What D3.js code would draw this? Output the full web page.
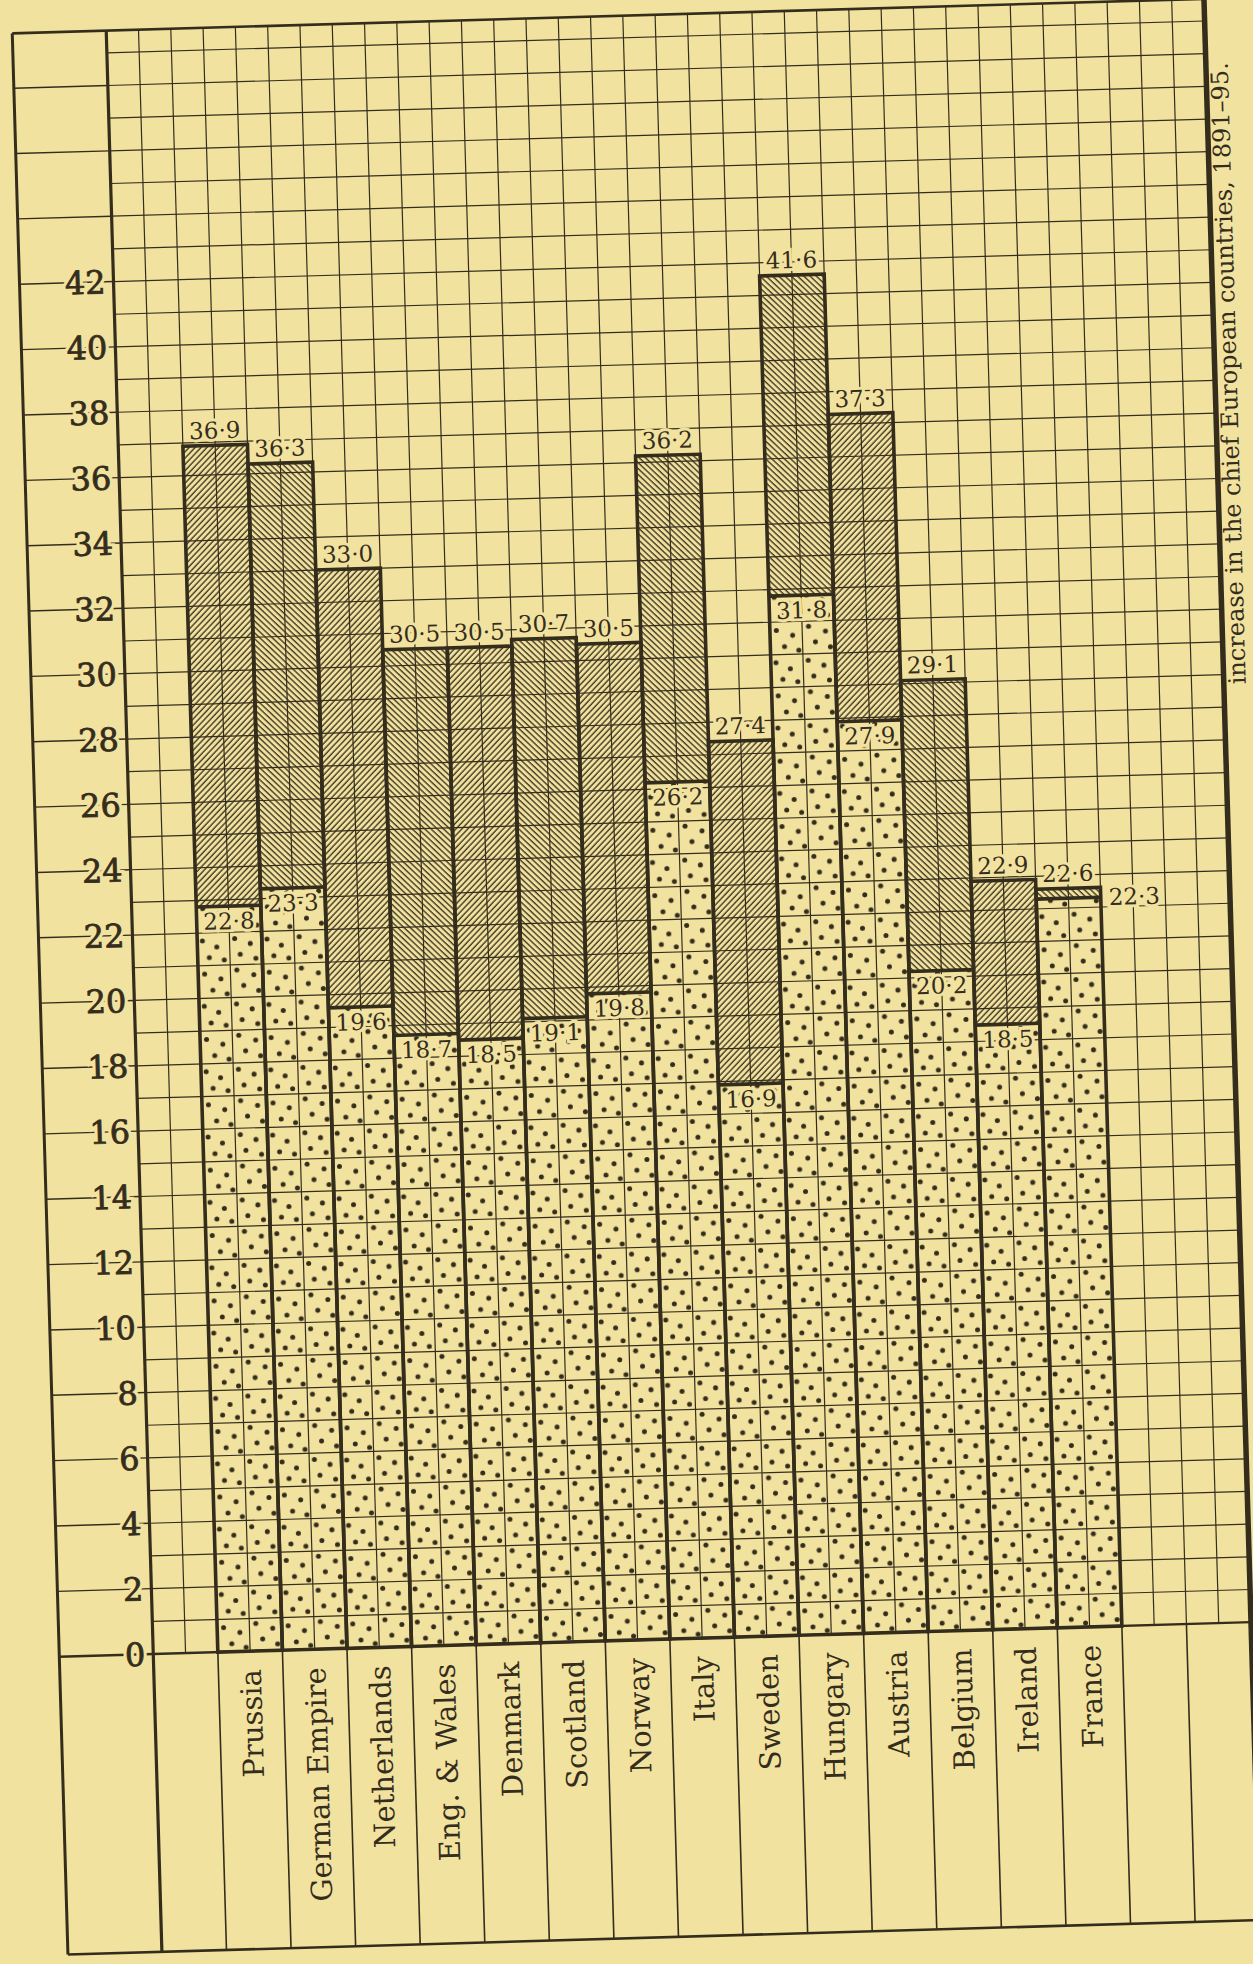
<!DOCTYPE html>
<html>
<head>
<meta charset="utf-8">
<script src="https://cdn.jsdelivr.net/npm/d3@7"></script>
<style>
  html, body { margin: 0; padding: 0; background: #f2e2a0; }
  svg { display: block; }
</style>
</head>
<body>
<div id="chart"></div>
<script>
// birth-rate / death-rate per 1000, 1891-95
const countries = ['Prussia', 'German Empire', 'Netherlands', 'Eng. & Wales', 'Denmark', 'Scotland',
  'Norway', 'Italy', 'Sweden', 'Hungary', 'Austria', 'Belgium', 'Ireland', 'France'];
const birthRates = [36.9, 36.3, 33.0, 30.5, 30.5, 30.7, 30.5, 36.2, 27.4, 41.6, 37.3, 29.1, 22.9, 22.6];
const deathRates = [22.8, 23.3, 19.6, 18.7, 18.5, 19.1, 19.8, 26.2, 16.9, 31.8, 27.9, 20.2, 18.5, 22.3];
const yTicks = d3.range(0, 43, 2);
const caption = 'increase in the chief European countries, 1891–95.';

const W = 1253, H = 1964;
const paper = '#f2e2a0', ink = '#352d1c';
const leftX = 40, axisX = 134, cell = 32.3, topY = 16, bottomY = 1938;
const rightX = axisX + 34 * cell;
const serif = "'DejaVu Serif', serif";

const fmt = v => d3.format('.1f')(v).replace('.', '·');

let y = d3.scaleLinear()
  .domain([0, 42])
  .range([1640, 267]);

let x = d3.scaleBand()
  .domain(countries)
  .range([axisX + 2 * cell, axisX + 30 * cell]);

let svg = d3.select('#chart')
  .append('svg')
  .attr('width', W)
  .attr('height', H);

svg.append('rect').attr('width', W).attr('height', H).attr('fill', paper);

// patterns
let defs = svg.append('defs');
[['hatch-a', 45], ['hatch-b', -45]].forEach(function(p) {
  let pat = defs.append('pattern')
    .attr('id', p[0])
    .attr('patternUnits', 'userSpaceOnUse')
    .attr('width', 4.3).attr('height', 10)
    .attr('patternTransform', 'rotate(' + p[1] + ')');
  pat.append('line')
    .attr('x1', 1).attr('x2', 1).attr('y1', 0).attr('y2', 10)
    .attr('stroke', ink).attr('stroke-width', 1.3);
});

let dotTile = [[0.08, 0.12], [0.30, 0.22], [0.18, 0.38], [0.41, 0.42], [0.58, 0.10], [0.82, 0.18],
  [0.66, 0.34], [0.90, 0.41], [0.10, 0.63], [0.35, 0.71], [0.22, 0.88], [0.44, 0.94],
  [0.60, 0.58], [0.86, 0.66], [0.70, 0.82], [0.93, 0.90]];
let tileW = 2 * cell, tileH = y(0) - y(2);
let dots = defs.append('pattern')
  .attr('id', 'dots')
  .attr('patternUnits', 'userSpaceOnUse')
  .attr('x', axisX).attr('y', y(0))
  .attr('width', tileW).attr('height', tileH);
dots.selectAll('circle')
  .data(dotTile)
  .enter().append('circle')
  .attr('cx', d => d[0] * tileW)
  .attr('cy', d => d[1] * tileH)
  .attr('r', 2.5)
  .attr('fill', ink);

// the page is photographed a little askew
let g = svg.append('g')
  .attr('transform', 'rotate(-1.66, 626, 982)');

// fine grid
let grid = g.append('g').attr('stroke', ink).attr('stroke-width', 1.2);
grid.selectAll('.vgrid')
  .data(d3.range(1, 34))
  .enter().append('line')
  .attr('class', 'vgrid')
  .attr('x1', k => axisX + k * cell).attr('x2', k => axisX + k * cell)
  .attr('y1', topY).attr('y2', y(0));
grid.selectAll('.hgrid')
  .data(d3.range(1, 50))
  .enter().append('line')
  .attr('class', 'hgrid')
  .attr('x1', axisX).attr('x2', rightX)
  .attr('y1', v => y(v)).attr('y2', v => y(v));

// tick lines in the left margin
g.append('g').selectAll('line')
  .data(d3.range(2, 50, 2))
  .enter().append('line')
  .attr('x1', leftX).attr('x2', axisX)
  .attr('y1', v => y(v)).attr('y2', v => y(v))
  .attr('stroke', ink).attr('stroke-width', 1.4);

// bars
let bars = g.append('g').selectAll('g')
  .data(countries)
  .enter().append('g');

bars.append('rect')
  .attr('x', d => x(d))
  .attr('width', x.bandwidth())
  .attr('y', (d, i) => y(deathRates[i]))
  .attr('height', (d, i) => y(0) - y(deathRates[i]))
  .attr('fill', 'url(#dots)');

bars.append('rect')
  .attr('x', d => x(d))
  .attr('width', x.bandwidth())
  .attr('y', (d, i) => y(birthRates[i]))
  .attr('height', (d, i) => y(deathRates[i]) - y(birthRates[i]))
  .attr('fill', (d, i) => i % 2 ? 'url(#hatch-b)' : 'url(#hatch-a)');

bars.append('rect')
  .attr('x', d => x(d))
  .attr('width', x.bandwidth())
  .attr('y', (d, i) => y(birthRates[i]))
  .attr('height', (d, i) => y(0) - y(birthRates[i]))
  .attr('fill', 'none')
  .attr('stroke', ink).attr('stroke-width', 3.6);

bars.append('line')
  .attr('x1', d => x(d)).attr('x2', d => x(d) + x.bandwidth())
  .attr('y1', (d, i) => y(deathRates[i])).attr('y2', (d, i) => y(deathRates[i]))
  .attr('stroke', ink).attr('stroke-width', 3.6);

// frame and table
let frame = g.append('g').attr('stroke', ink).attr('fill', 'none');
frame.append('line').attr('x1', leftX).attr('x2', leftX).attr('y1', topY).attr('y2', bottomY).attr('stroke-width', 3);
frame.append('line').attr('x1', axisX).attr('x2', axisX).attr('y1', topY).attr('y2', bottomY).attr('stroke-width', 3.2);
frame.append('line').attr('x1', rightX).attr('x2', rightX).attr('y1', topY - 4).attr('y2', bottomY).attr('stroke-width', 5.5);
frame.append('line').attr('x1', leftX).attr('x2', rightX).attr('y1', topY).attr('y2', topY).attr('stroke-width', 2.6);
frame.append('line').attr('x1', leftX).attr('x2', rightX).attr('y1', bottomY).attr('y2', bottomY).attr('stroke-width', 2.6);
frame.append('line').attr('x1', leftX).attr('x2', rightX).attr('y1', y(0)).attr('y2', y(0)).attr('stroke-width', 2.4);
frame.selectAll('.col')
  .data(d3.range(2, 34, 2))
  .enter().append('line')
  .attr('class', 'col')
  .attr('x1', k => axisX + k * cell).attr('x2', k => axisX + k * cell)
  .attr('y1', y(0)).attr('y2', bottomY)
  .attr('stroke-width', 1.6);

// y tick labels: a paper-coloured halo first, then the heavy figures
let ticks = g.append('g')
  .attr('font-family', serif)
  .attr('font-size', 32)
  .attr('text-anchor', 'end');
ticks.selectAll('.halo')
  .data(yTicks)
  .enter().append('text')
  .attr('class', 'halo')
  .attr('x', axisX - 8).attr('y', v => y(v)).attr('dy', '0.36em')
  .attr('fill', paper).attr('stroke', paper).attr('stroke-width', 7)
  .text(v => v);
ticks.selectAll('.fig')
  .data(yTicks)
  .enter().append('text')
  .attr('class', 'fig')
  .attr('x', axisX - 8).attr('y', v => y(v)).attr('dy', '0.36em')
  .attr('fill', ink).attr('stroke', ink).attr('stroke-width', 0.8)
  .text(v => v);

// value labels
let lab = g.append('g')
  .attr('font-family', serif)
  .attr('font-size', 23)
  .attr('fill', ink)
  .attr('stroke', paper).attr('stroke-width', 6).attr('paint-order', 'stroke');

lab.selectAll('.top')
  .data(countries)
  .enter().append('text')
  .attr('class', 'top')
  .attr('x', d => x(d) + x.bandwidth() / 2)
  .attr('y', (d, i) => y(birthRates[i]) - 7)
  .attr('text-anchor', 'middle')
  .text((d, i) => fmt(birthRates[i]));

lab.selectAll('.low')
  .data(countries)
  .enter().append('text')
  .attr('class', 'low')
  .attr('x', (d, i) => d === 'France' ? x(d) + x.bandwidth() + 8 : x(d) + x.bandwidth() / 2)
  .attr('y', (d, i) => d === 'France' ? y(deathRates[i]) + 8 : y(deathRates[i]) + 23)
  .attr('text-anchor', d => d === 'France' ? 'start' : 'middle')
  .text((d, i) => fmt(deathRates[i]));

// country names
g.append('g').selectAll('text')
  .data(countries)
  .enter().append('text')
  .attr('transform', d => 'translate(' + (x(d) + x.bandwidth() / 2) + ',' + (y(0) + 18) + ') rotate(-90)')
  .attr('dy', '0.35em')
  .attr('text-anchor', 'end')
  .attr('font-family', serif)
  .attr('font-size', 29)
  .attr('fill', ink)
  .text(d => d);

// caption running up the outer margin
g.append('text')
  .attr('transform', 'translate(1254,80) rotate(-90)')
  .attr('text-anchor', 'end')
  .attr('font-family', serif)
  .attr('font-size', 24)
  .attr('fill', ink)
  .text(caption);
</script>
</body>
</html>
